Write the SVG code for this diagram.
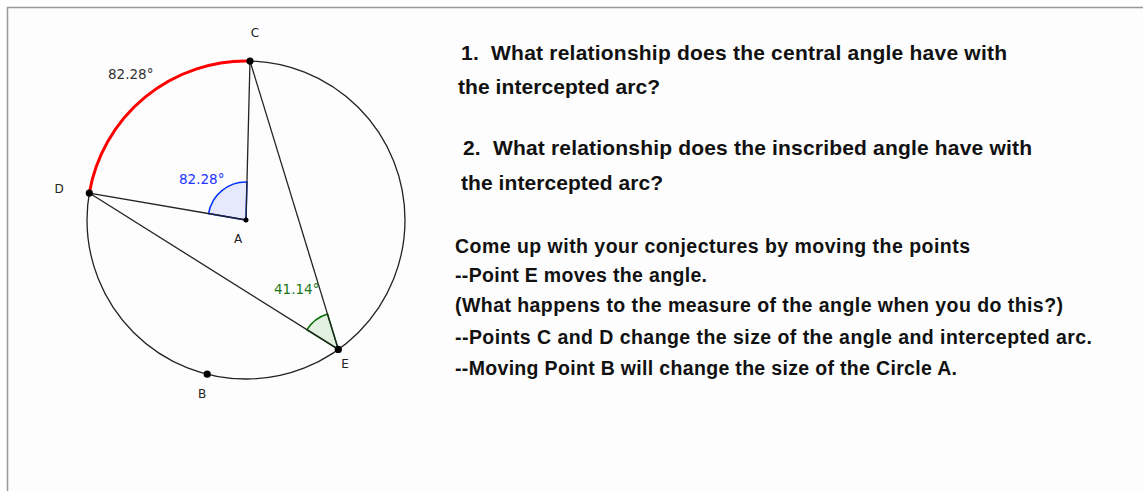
<svg xmlns="http://www.w3.org/2000/svg" width="1143" height="491" viewBox="0 0 1143 491">
<style>
.seg{stroke:#222;stroke-width:1.3;fill:none}
.pt{fill:#000}
.lbl{font-family:"DejaVu Sans",sans-serif;font-size:12px;fill:#222;text-anchor:middle}
.deg{font-family:"DejaVu Sans",sans-serif;font-size:13.5px}
.q{font-family:"Liberation Sans",Arial,sans-serif;font-weight:bold;font-size:21px;fill:#111}
.n{font-family:"Liberation Sans",Arial,sans-serif;font-weight:bold;font-size:19.5px;fill:#111}
</style>
<rect x="0" y="0" width="1143" height="491" fill="#fff"/>
<rect x="7.5" y="7.5" width="1145" height="495" fill="#fdfdfd" stroke="#999" stroke-width="1.5"/>
<g id="circle-A">
<circle cx="246" cy="220" r="159" class="seg"/>
</g>
<g id="connectors">
<path d="M89.3,193.05 A159,159 0 0,1 250,61.05" fill="none" stroke="#ff0000" stroke-width="3"/>
<path id="central-angle" d="M246,220 L246.95,182.01 A38,38 0 0,0 208.55,213.56 Z" fill="#e6e8fb" stroke="#0033ff" stroke-width="1.5"/>
<path id="inscribed-angle" d="M338.3,349.4 L306.96,329.72 A37,37 0 0,1 327.47,314.02 Z" fill="#e2f0e2" stroke="#006f00" stroke-width="1.5"/>
<line x1="246" y1="220" x2="250" y2="61.05" class="seg"/>
<line x1="246" y1="220" x2="89.3" y2="193.05" class="seg"/>
<line x1="338.3" y1="349.4" x2="250" y2="61.05" class="seg"/>
<line x1="338.3" y1="349.4" x2="89.3" y2="193.05" class="seg"/>
</g>
<g id="point-A"><circle cx="246" cy="220" r="2.5" class="pt"/><text x="238" y="243" class="lbl">A</text></g>
<g id="point-B"><circle cx="207.2" cy="374.2" r="3.6" class="pt"/><text x="202" y="398" class="lbl">B</text></g>
<g id="point-C"><circle cx="250" cy="61.05" r="3.6" class="pt"/><text x="255" y="37" class="lbl">C</text></g>
<g id="point-D"><circle cx="89.3" cy="193.05" r="3.6" class="pt"/><text x="59" y="193" class="lbl">D</text></g>
<g id="point-E"><circle cx="338.3" cy="349.4" r="3.6" class="pt"/><text x="345" y="368" class="lbl">E</text></g>
<g id="labels">
<text x="108" y="79" class="deg" fill="#333">82.28°</text>
<text x="179" y="184" class="deg" fill="#2233ff">82.28°</text>
<text x="274" y="294" class="deg" fill="#1a7a1a">41.14°</text>
</g>
<g id="questions">
<text x="461" y="60" class="q" textLength="546" lengthAdjust="spacing" xml:space="preserve">1.  What relationship does the central angle have with</text>
<text x="458" y="94" class="q" textLength="202" lengthAdjust="spacing">the intercepted arc?</text>
<text x="463" y="155" class="q" textLength="569" lengthAdjust="spacing" xml:space="preserve">2.  What relationship does the inscribed angle have with</text>
<text x="461" y="190" class="q" textLength="202" lengthAdjust="spacing">the intercepted arc?</text>
</g>
<g id="notes">
<text x="455" y="253" class="n" textLength="515" lengthAdjust="spacing">Come up with your conjectures by moving the points</text>
<text x="455" y="282" class="n" textLength="252" lengthAdjust="spacing">--Point E moves the angle.</text>
<text x="455" y="312" class="n" textLength="608" lengthAdjust="spacing">(What happens to the measure of the angle when you do this?)</text>
<text x="455" y="344" class="n" textLength="637" lengthAdjust="spacing">--Points C and D change the size of the angle and intercepted arc.</text>
<text x="455" y="375" class="n" textLength="502" lengthAdjust="spacing">--Moving Point B will change the size of the Circle A.</text>
</g>
</svg>
